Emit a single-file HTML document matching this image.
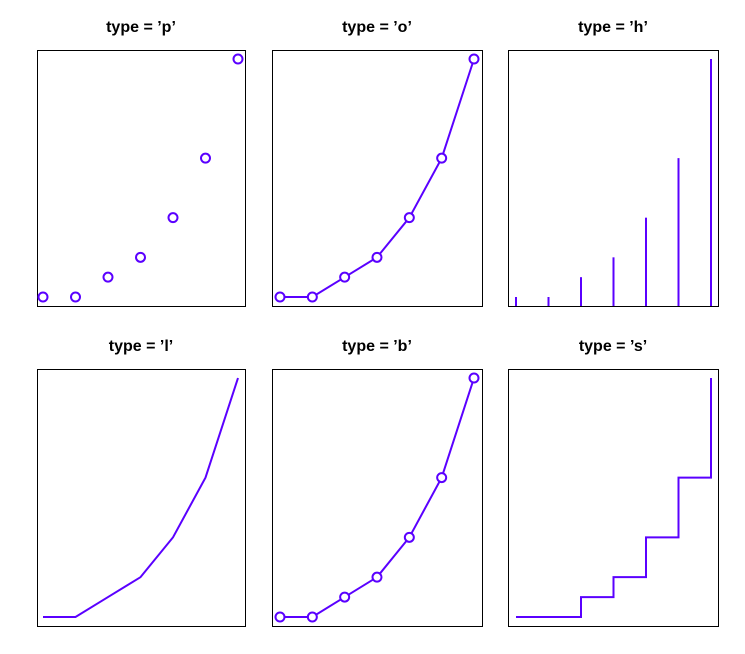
<!DOCTYPE html>
<html><head><meta charset="utf-8"><style>
body{margin:0;background:#fff}
svg{display:block}
text{font-family:"Liberation Sans",sans-serif;font-weight:bold;font-size:16px}
</style></head><body>
<svg id="c" width="745" height="654" xmlns="http://www.w3.org/2000/svg"></svg>
<script>
const xs=[1,2,3,4,5,6,7];
const ys=[0,0,1,2,4,7,12];
const types=['p','o','h','l','b','s'];
const col='#5a00ff';
const NS='http://www.w3.org/2000/svg';
const svg=document.getElementById('c');
const cols=[[37,245,43,238],[272,482,280,474],[508,718,516,711]];
const rows=[[50,306],[369,626]];
function mk(t,a,p){const e=document.createElementNS(NS,t);for(const k in a)e.setAttribute(k,a[k]);p.appendChild(e);return e;}
types.forEach((tp,i)=>{
  const [l,r,x0,x1]=cols[i%3],[t,b]=rows[Math.floor(i/3)];
  const g=mk('g',{},svg);
  
  
  const sx=v=>x0+(v-1)*(x1-x0)/6;
  const sy=v=>(b-9)-v*(b-t-18)/12;
  const ti=mk('text',{x:(l+r)/2,y:t-18,'text-anchor':'middle'},g);
  ti.textContent="type = \u2019"+tp+"\u2019";
  
  
  const fr=mk('rect',{x:l+0.5,y:t+0.5,width:r-l,height:b-t,fill:'none',stroke:'#000','stroke-width':1},g);
  
  
  const pts=xs.map((x,j)=>[sx(x),sy(ys[j])]);
  if(tp==='o'||tp==='l'||tp==='b'){
    const pl=mk('polyline',{points:pts.map(p=>p.join(',')).join(' '),fill:'none',stroke:col,'stroke-width':2},g);
    
    
  }
  if(tp==='s'){
    let d='M'+pts[0].join(',');
    for(let j=1;j<pts.length;j++)d+=' L'+pts[j][0]+','+pts[j-1][1]+' L'+pts[j].join(',');
    const pa=mk('path',{d:d,fill:'none',stroke:col,'stroke-width':2},g);
    
    
  }
  if(tp==='h'){
    pts.forEach(p=>{
      const ln=mk('line',{x1:p[0],x2:p[0],y1:b,y2:p[1],stroke:col,'stroke-width':2},g);
      
      
    });
  }
  if(tp==='p'||tp==='o'||tp==='b'){
    pts.forEach(p=>{
      const c=mk('circle',{cx:p[0],cy:p[1],r:4.5,fill:tp==='p'?'none':'#fff',stroke:col,'stroke-width':2},g);
      
      
    });
  }
});
</script>
</body></html>
